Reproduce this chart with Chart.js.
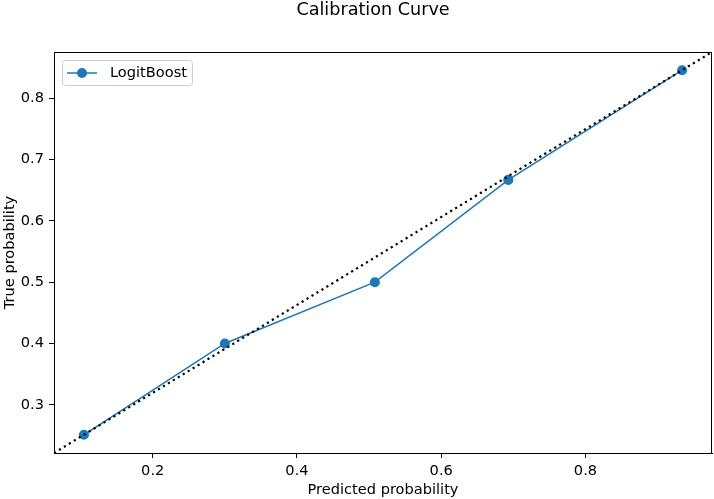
<!DOCTYPE html>
<html>
    <head>
        <title>Calibration Curve</title>
        <script src="https://cdnjs.cloudflare.com/ajax/libs/Chart.js/4.4.1/chart.umd.min.js"></script>
        <style>
            body { margin: 0; background: #fff; }
            canvas { display: block; }
        </style>
        <script>
            // mean predicted probability per bin, fraction of positives per bin
            const predicted = [0.1046, 0.300, 0.508, 0.693, 0.934];
            const observed = [0.251, 0.400, 0.500, 0.667, 0.846];
            const seriesName = 'LogitBoost';
            const xTicks = [0.2, 0.4, 0.6, 0.8];
            const yTicks = [0.3, 0.4, 0.5, 0.6, 0.7, 0.8];
            const blue = '#1f77b4';

            // matplotlib style 5% margins around the data
            function limits(arr)
            {
                const lo = Math.min(...arr), hi = Math.max(...arr);
                const m = (hi - lo) * 0.05;
                return [lo - m, hi + m];
            }

            const frame = {
                id: 'frame',
                afterDatasetsDraw(chart) {
                    const a = chart.chartArea;
                    const ctx = chart.ctx;
                    ctx.save();
                    ctx.strokeStyle = '#000';
                    ctx.lineWidth = 1;
                    ctx.strokeRect(Math.round(a.left) + 0.5, Math.round(a.top) + 0.5,
                                   Math.round(a.right - a.left) - 1, Math.round(a.bottom - a.top));
                    ctx.restore();
                }
            };

            const titleAndLegend = {
                id: 'titleAndLegend',
                afterDraw(chart) {
                    const ctx = chart.ctx;
                    ctx.save();
                    // title
                    ctx.fillStyle = '#000';
                    ctx.font = '17.6px "DejaVu Sans"';
                    ctx.textAlign = 'center';
                    ctx.textBaseline = 'alphabetic';
                    ctx.fillText('Calibration Curve', 373, 14.5);

                    // legend box
                    const x = 62.5, y = 60.5, w = 130, h = 25, r = 3;
                    ctx.beginPath();
                    ctx.roundRect(x, y, w, h, r);
                    ctx.fillStyle = 'rgba(255,255,255,0.8)';
                    ctx.fill();
                    ctx.strokeStyle = '#cccccc';
                    ctx.lineWidth = 1;
                    ctx.stroke();

                    ctx.strokeStyle = blue;
                    ctx.lineWidth = 1.5;
                    ctx.beginPath();
                    ctx.moveTo(67, 73);
                    ctx.lineTo(97, 73);
                    ctx.stroke();
                    ctx.fillStyle = blue;
                    ctx.beginPath();
                    ctx.arc(82, 73, 5, 0, Math.PI * 2);
                    ctx.fill();

                    ctx.fillStyle = '#000';
                    ctx.font = '14.6px "DejaVu Sans"';
                    ctx.textAlign = 'left';
                    ctx.textBaseline = 'middle';
                    ctx.fillText(seriesName, 110, 73);
                    ctx.restore();
                }
            };

            function loaded()
            {
                const [xMin, xMax] = limits(predicted);
                const [yMin, yMax] = limits(observed);
                const points = predicted.map((p, i) => ({ x: p, y: observed[i] }));

                Chart.defaults.font.family = '"DejaVu Sans"';
                Chart.defaults.font.size = 14.6;
                Chart.defaults.color = '#000';

                new Chart(document.getElementById('chart'), {
                    type: 'scatter',
                    data: {
                        datasets: [{
                            // diagonal of the axes
                            label: 'reference',
                            data: [{ x: xMin, y: yMin }, { x: xMax, y: yMax }],
                            showLine: true,
                            borderColor: '#000',
                            borderWidth: 2.2,
                            borderDash: [2.2, 3.6],
                            borderCapStyle: 'butt',
                            pointRadius: 0,
                            order: 0
                        }, {
                            label: seriesName,
                            data: points,
                            showLine: true,
                            borderColor: blue,
                            backgroundColor: blue,
                            borderWidth: 1.5,
                            pointRadius: 4.3,
                            pointBorderWidth: 1.5,
                            order: 1
                        }]
                    },
                    options: {
                        responsive: false,
                        animation: false,
                        layout: { autoPadding: false, padding: { top: 52, right: 2, left: 0, bottom: 0 } },
                        plugins: {
                            legend: { display: false },
                            title: { display: false },
                            tooltip: { enabled: false }
                        },
                        scales: {
                            x: {
                                type: 'linear',
                                min: xMin,
                                max: xMax,
                                afterBuildTicks: s => { s.ticks = xTicks.map(v => ({ value: v })); },
                                afterFit: s => { s.height = 46; },
                                grid: { drawOnChartArea: false, tickLength: 5, tickColor: '#000', tickWidth: 1 },
                                border: { color: '#000', width: 1 },
                                ticks: { padding: 4, maxRotation: 0, callback: v => v.toFixed(1) },
                                title: { display: true, text: 'Predicted probability', padding: { top: 0, bottom: 0 } }
                            },
                            y: {
                                type: 'linear',
                                min: yMin,
                                max: yMax,
                                afterBuildTicks: s => { s.ticks = yTicks.map(v => ({ value: v })); },
                                afterFit: s => { s.width = 54; },
                                grid: { drawOnChartArea: false, tickLength: 5, tickColor: '#000', tickWidth: 1 },
                                border: { color: '#000', width: 1 },
                                ticks: { padding: 5, callback: v => v.toFixed(1) },
                                title: { display: true, text: 'True probability', padding: { top: 1, bottom: 0 } }
                            }
                        }
                    },
                    plugins: [frame, titleAndLegend]
                });
            }

            window.addEventListener('load', loaded, true);
        </script>
    </head>
    <body>
        <canvas id="chart" width="714" height="499"></canvas>
    </body>
</html>
